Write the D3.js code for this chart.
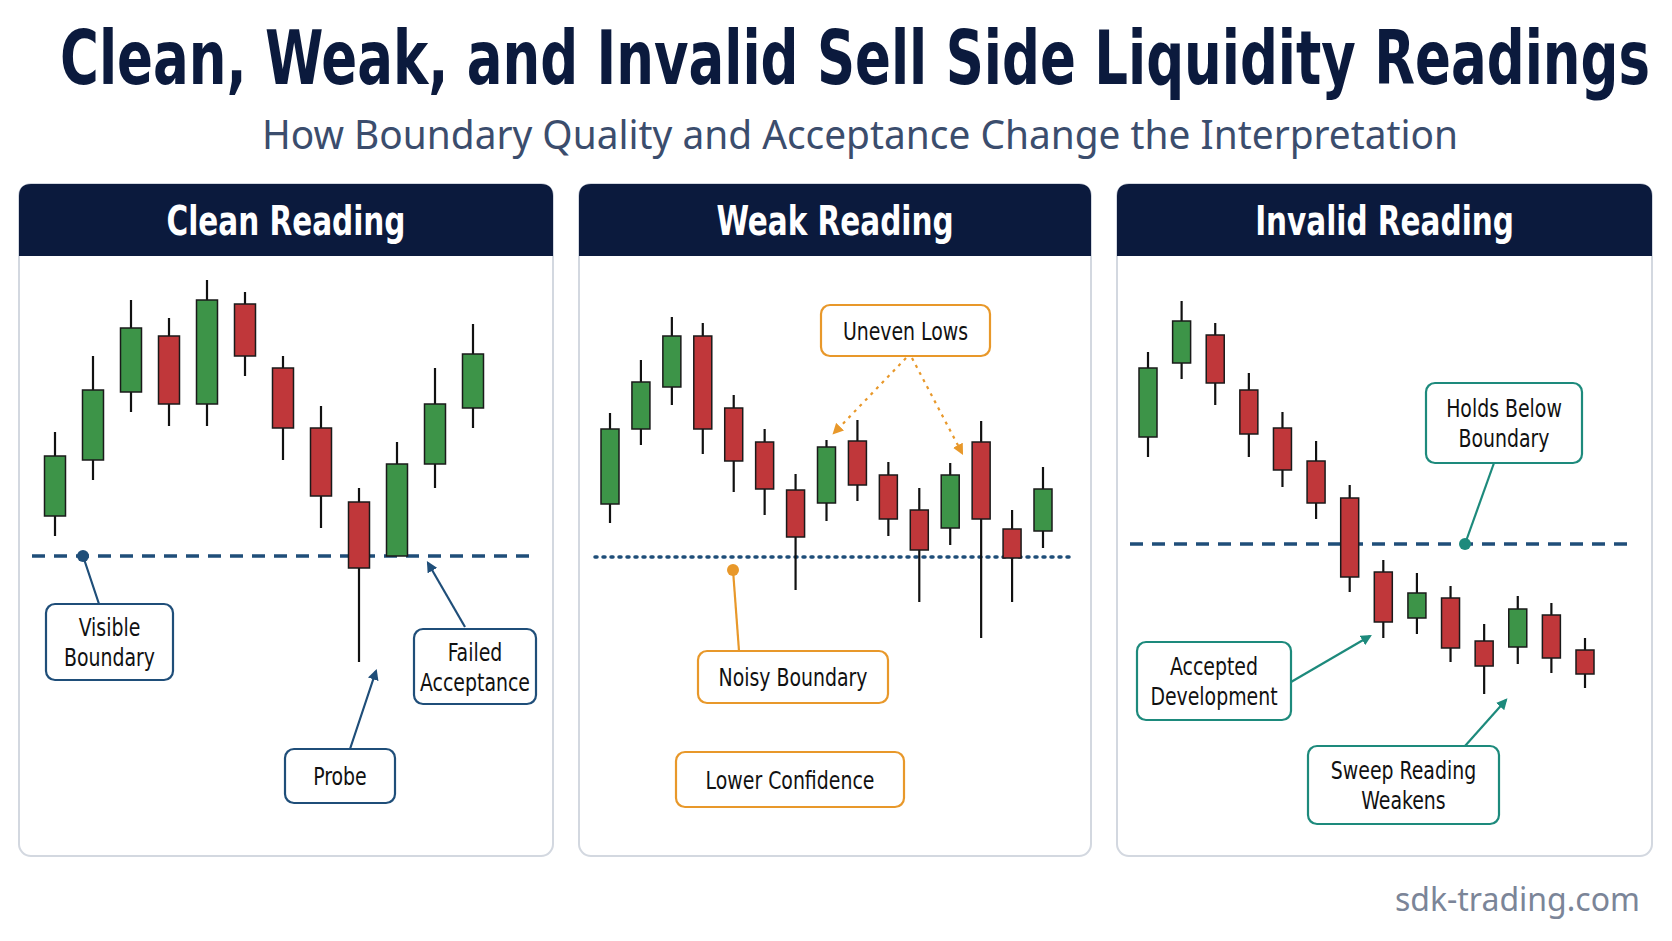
<!DOCTYPE html>
<html><head><meta charset="utf-8">
<script src="https://cdn.jsdelivr.net/npm/d3@7"></script>
<style>body{margin:0;background:#fff}svg{display:block}</style>
</head><body><svg id="c" width="1672" height="941"></svg>
<script>
// candles as [open, high, low, close]
const cleanCandles = [[46,67,41,61],[60,86,55,77.5],[77,100,72,93],[91,95.5,68.5,74],[74,105,68.5,100],[99,102,81,86],
  [83,86,60,68],[68,73.5,43,51],[49.5,53,9.5,33],[36,64.5,36,59],[59,83,53,74],[73,94,68,86.5]];
const weakCandles = [[49,71.75,44.25,67.75],[67.75,85,63.75,79.5],[78.25,95.75,73.75,91],[91,94.25,61.5,67.75],[73,76.25,52,59.75],
  [64.5,67.75,46.25,52.75],[52.5,56.5,27.5,40.75],[49.25,65,44.75,63.25],[64.75,70,49.75,53.75],[56.25,59.5,41,45.25],
  [47.5,53,24.5,37.5],[43,59.25,38.75,56.25],[64.5,69.75,15.5,45.25],[42.75,47.5,24.5,35.5],[42.25,58.25,38,52.75]];
const invalidCandles = [[65.75,87,60.75,83],[84.25,99.75,80.25,94.75],[91.25,94.25,73.75,79.25],[77.5,81.75,60.75,66.5],
  [68,72,53.25,57.5],[59.75,64.75,45.25,49.25],[50.5,53.75,27,30.75],[32,35,15.5,19.5],[20.5,31.75,16.5,26.75],
  [25.5,28.5,9.5,13],[14.75,19,1.5,8.5],[13.25,26,9,22.75],[21.25,24.25,6.75,10.5],[12.5,15.5,3,6.5]];
const boundaries = [36, 35.75, 39];
const panelTitles = ["Clean Reading", "Weak Reading", "Invalid Reading"];

const svg = d3.select("#c");
const navy = "#0b1a3d", green = "#3d9448", red = "#c0373a";
const cond = "'DejaVu Sans Condensed','Liberation Sans Narrow','Roboto',sans-serif";
const y = d3.scaleLinear().domain([0, 100]).range([700, 300]);

// squeeze text horizontally to mimic a condensed face
function narrow(sel, f) {
  sel.each(function () { const w = this.getComputedTextLength(); d3.select(this).attr("textLength", w * f).attr("lengthAdjust", "spacingAndGlyphs"); });
}

// title drawn smaller and stretched vertically so it looks condensed
svg.append("text").attr("transform", "translate(855,84) scale(1,1.22)").attr("text-anchor", "middle")
  .attr("font-family", cond).attr("font-weight", "bold").attr("font-size", 61).attr("fill", navy)
  .text("Clean, Weak, and Invalid Sell Side Liquidity Readings")
  .each(function () { const w = this.getComputedTextLength(); d3.select(this).attr("textLength", Math.min(w, 1590)).attr("lengthAdjust", "spacingAndGlyphs"); });
svg.append("text").attr("x", 860).attr("y", 149).attr("text-anchor", "middle")
  .attr("font-family", "'Noto Sans',sans-serif").attr("font-size", 40).attr("fill", "#3b4d6d")
  .attr("textLength", 1196).attr("lengthAdjust", "spacingAndGlyphs")
  .text("How Boundary Quality and Acceptance Change the Interpretation");
svg.append("text").attr("x", 1640).attr("y", 911).attr("text-anchor", "end")
  .attr("font-family", "'Noto Sans',sans-serif").attr("font-size", 32).attr("fill", "#7b8598")
  .text("sdk-trading.com");

const panels = [
  {x0: 19, x1: 553, cx: [55, 473], line: [32, 533], data: cleanCandles, dash: "13,9"},
  {x0: 579, x1: 1091, cx: [610, 1043], line: [595, 1072], data: weakCandles, dash: "2,6"},
  {x0: 1117, x1: 1652, cx: [1148, 1585], line: [1130, 1630], data: invalidCandles, dash: "13,9"}
];

panels.forEach((p, i) => {
  const g = svg.append("g");
  g.append("rect").attr("x", p.x0).attr("y", 184).attr("width", p.x1 - p.x0).attr("height", 672)
    .attr("rx", 12).attr("fill", "#fff").attr("stroke", "#d3d8e0").attr("stroke-width", 2);
  g.append("path").attr("d", `M${p.x0},256 V196 Q${p.x0},184 ${p.x0 + 12},184 H${p.x1 - 12} Q${p.x1},184 ${p.x1},196 V256 Z`)
    .attr("fill", navy);
  g.append("text").attr("x", (p.x0 + p.x1) / 2).attr("y", 235).attr("text-anchor", "middle")
    .attr("font-family", cond).attr("font-weight", "bold").attr("font-size", 40).attr("fill", "#fff")
    .text(panelTitles[i]).call(narrow, 0.82);

  g.append("line").attr("x1", p.line[0]).attr("x2", p.line[1])
    .attr("y1", y(boundaries[i])).attr("y2", y(boundaries[i]))
    .attr("stroke", "#1f4e79").attr("stroke-width", 3.5).attr("stroke-dasharray", p.dash)
    .attr("stroke-linecap", i === 1 ? "round" : "butt");

  const x = d3.scalePoint().domain(d3.range(p.data.length)).range(p.cx);
  const bw = i === 0 ? 21 : 18;
  const c = g.selectAll(".k").data(p.data).join("g");
  c.append("line").attr("x1", (d, j) => x(j)).attr("x2", (d, j) => x(j))
    .attr("y1", d => y(d[1])).attr("y2", d => y(d[2])).attr("stroke", "#111").attr("stroke-width", 2.2);
  c.append("rect").attr("x", (d, j) => x(j) - bw / 2).attr("width", bw)
    .attr("y", d => y(Math.max(d[0], d[3]))).attr("height", d => Math.abs(y(d[0]) - y(d[3])))
    .attr("fill", d => d[3] >= d[0] ? green : red).attr("stroke", "#1a1a1a").attr("stroke-width", 1.5);
});

const defs = svg.append("defs");
[["navy", "#1f4e79"], ["orange", "#e8982a"], ["teal", "#1d8a7c"]].forEach(([n, c]) => {
  defs.append("marker").attr("id", "a-" + n).attr("viewBox", "0 0 10 10").attr("refX", 8).attr("refY", 5)
    .attr("markerWidth", 5).attr("markerHeight", 5).attr("orient", "auto")
    .append("path").attr("d", "M0,0 L10,5 L0,10 Z").attr("fill", c);
});

function box(x, yy, w, h, col, lines) {
  svg.append("rect").attr("x", x).attr("y", yy).attr("width", w).attr("height", h).attr("rx", 9)
    .attr("fill", "#fff").attr("stroke", col).attr("stroke-width", 2.2);
  const lh = 30, start = yy + h / 2 - (lines.length - 1) * lh / 2 + 9;
  lines.forEach((t, k) => svg.append("text").attr("x", x + w / 2).attr("y", start + k * lh)
    .attr("text-anchor", "middle").attr("font-family", cond).attr("font-size", 25).attr("fill", "#111")
    .text(t).call(narrow, 0.84));
}
function link(x1, y1, x2, y2, col, mk, dash) {
  svg.append("line").attr("x1", x1).attr("y1", y1).attr("x2", x2).attr("y2", y2)
    .attr("stroke", col).attr("stroke-width", 2.2).attr("stroke-dasharray", dash || null)
    .attr("marker-end", mk ? `url(#a-${mk})` : null);
}
function dot(cx, cy, col) { svg.append("circle").attr("cx", cx).attr("cy", cy).attr("r", 6).attr("fill", col); }

const nv = "#1f4e79", or = "#e8982a", tl = "#1d8a7c";
link(99, 604, 83, y(boundaries[0]), nv); dot(83, y(boundaries[0]), nv);
box(46, 604, 127, 76, nv, ["Visible", "Boundary"]);
link(465, 627, 428, 563, nv, "navy");
box(414, 629, 122, 75, nv, ["Failed", "Acceptance"]);
link(350, 749, 376, 671, nv, "navy");
box(285, 749, 110, 54, nv, ["Probe"]);

link(906, 358, 834, 433, or, "orange", "3,5");
link(912, 358, 962, 453, or, "orange", "3,5");
box(821, 305, 169, 51, or, ["Uneven Lows"]);
link(739, 651, 733, 570, or); dot(733, 570, or);
box(698, 651, 190, 52, or, ["Noisy Boundary"]);
box(676, 752, 228, 55, or, ["Lower Confidence"]);

link(1494, 463, 1465, y(boundaries[2]), tl); dot(1465, y(boundaries[2]), tl);
box(1426, 383, 156, 80, tl, ["Holds Below", "Boundary"]);
link(1291, 682, 1370, 636, tl, "teal");
box(1137, 642, 154, 78, tl, ["Accepted", "Development"]);
link(1465, 746, 1506, 700, tl, "teal");
box(1308, 746, 191, 78, tl, ["Sweep Reading", "Weakens"]);
</script></body></html>
